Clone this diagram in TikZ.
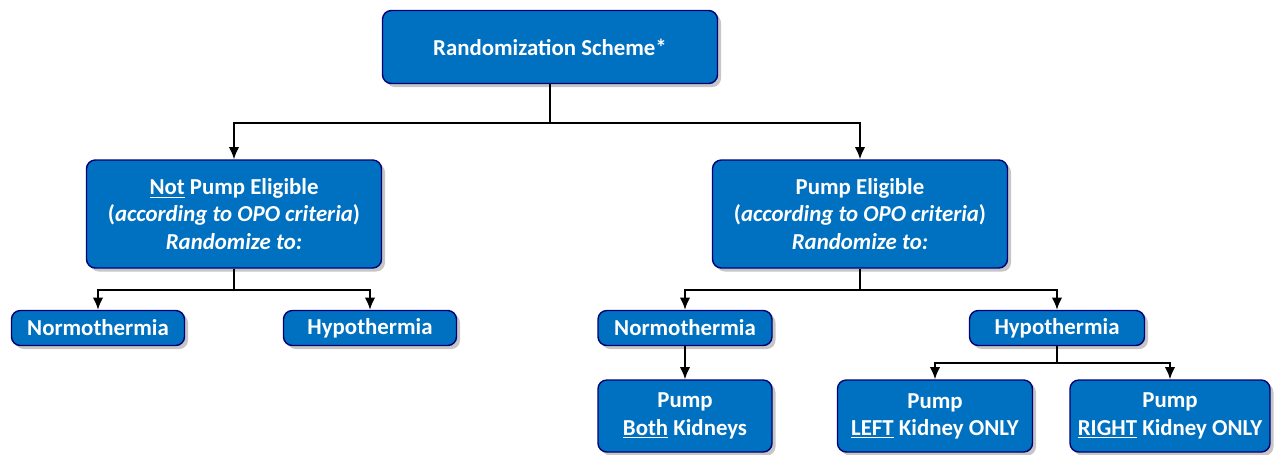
\documentclass[tikz,border=0pt]{standalone}
\usepackage{fontspec}
\setmainfont{Carlito}
\usetikzlibrary{shadows,arrows.meta}

\tikzset{
    box/.style={draw=blue!45!black, line width=0.8pt, fill={rgb,255:red,0;green,112;blue,192},
        rounded corners=5pt, text=white, font=\bfseries\fontsize{13}{15.5}\selectfont,
        align=center, inner sep=0pt, drop shadow={opacity=0.45, shadow xshift=2pt, shadow yshift=-2pt}},
    conn/.style={line width=1.1pt, -{Latex[length=7pt,width=6pt]}},
}

\begin{document}
\begin{tikzpicture}[x=0.02cm,y=-0.02cm]
    \useasboundingbox (0,0) rectangle (1288,454);

    % boxes
    \node[box, minimum width=335*0.02cm, minimum height=73*0.02cm] (root) at (550,47) {Randomization Scheme*};
    \node[box, minimum width=295*0.02cm, minimum height=108*0.02cm] (notelig) at (234,214)
        {\underline{Not} Pump Eligible\\(\textit{according to OPO criteria})\\\textit{Randomize to:}};
    \node[box, minimum width=295*0.02cm, minimum height=108*0.02cm] (elig) at (860,214)
        {Pump Eligible\\(\textit{according to OPO criteria})\\\textit{Randomize to:}};

    \node[box, minimum width=173*0.02cm, minimum height=35*0.02cm] (normA) at (98,328) {Normothermia};
    \node[box, minimum width=173*0.02cm, minimum height=35*0.02cm] (hypoA) at (370,328) {Hypothermia};
    \node[box, minimum width=174*0.02cm, minimum height=35*0.02cm] (normB) at (685,328) {Normothermia};
    \node[box, minimum width=175*0.02cm, minimum height=35*0.02cm] (hypoB) at (1057,328) {Hypothermia};

    \node[box, minimum width=174*0.02cm, minimum height=72*0.02cm] (both) at (685,416) {Pump\\\underline{Both} Kidneys};
    \node[box, minimum width=195*0.02cm, minimum height=72*0.02cm] (left) at (935,416) {Pump\\\underline{LEFT} Kidney ONLY};
    \node[box, minimum width=200*0.02cm, minimum height=72*0.02cm] (right) at (1170,416) {Pump\\\underline{RIGHT} Kidney ONLY};

    % split points
    \coordinate (s1) at (550,123);
    \coordinate (s2) at (234,290);
    \coordinate (s3) at (860,290);
    \coordinate (s4) at (1057,363);

    \draw[conn] (root.south) -- (s1) -| (notelig.north);
    \draw[conn] (root.south) -- (s1) -| (elig.north);
    \draw[conn] (notelig.south) -- (s2) -| (normA.north);
    \draw[conn] (notelig.south) -- (s2) -| (hypoA.north);
    \draw[conn] (elig.south) -- (s3) -| (normB.north);
    \draw[conn] (elig.south) -- (s3) -| (hypoB.north);
    \draw[conn] (normB.south) -- (both.north);
    \draw[conn] (hypoB.south) -- (s4) -| (left.north);
    \draw[conn] (hypoB.south) -- (s4) -| (right.north);

\end{tikzpicture}
\end{document}
